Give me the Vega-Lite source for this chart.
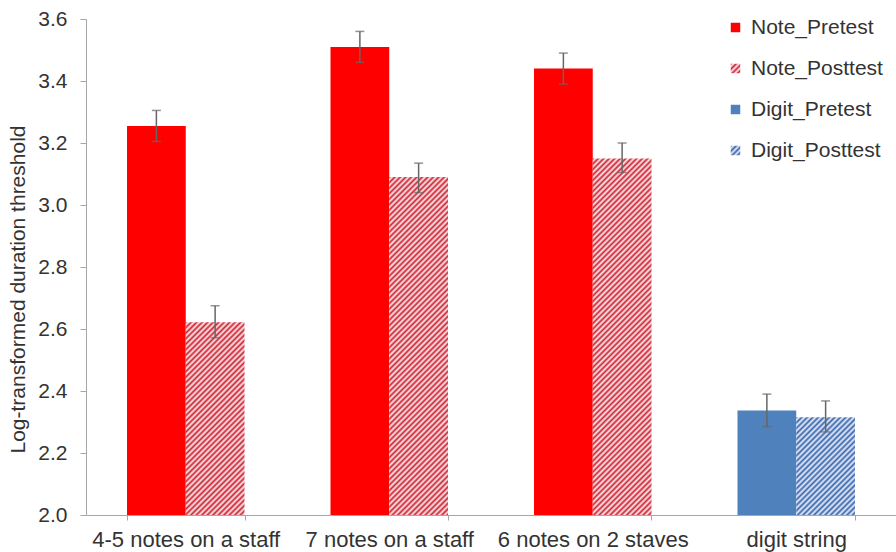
{
  "$schema": "https://vega.github.io/schema/vega-lite/v6.json",
  "width": 810,
  "height": 496,
  "autosize": {"type": "none"},
  "padding": {"left": 86, "top": 19, "right": 0, "bottom": 37},
  "background": "white",
  "config": {
    "font": "Liberation Sans",
    "view": {"stroke": null},
    "axis": {"grid": false, "domainColor": "#a6a6a6", "tickColor": "#a6a6a6", "labelColor": "#333333", "labelFontSize": 21, "titleColor": "#333333", "titleFontWeight": "normal"},
    "axisY": {"tickSize": 6, "labelPadding": 13, "titleFontSize": 21, "titleX": -68, "titleY": 270, "titleAngle": -90, "titleBaseline": "middle", "titleAlign": "center"},
    "axisX": {"tickBand": "extent", "tickSize": 5, "labelPadding": 9, "labelAngle": 0, "labelFontSize": 22, "labelLimit": 400}
  },
  "params": [
    {"name": "redStops", "value": [{"offset":0,"color":"#c23"},{"offset":0.005,"color":"#fee"},{"offset":0.01,"color":"#c23"},{"offset":0.015,"color":"#fee"},{"offset":0.02,"color":"#c23"},{"offset":0.025,"color":"#fee"},{"offset":0.03,"color":"#c23"},{"offset":0.035,"color":"#fee"},{"offset":0.04,"color":"#c23"},{"offset":0.045,"color":"#fee"},{"offset":0.05,"color":"#c23"},{"offset":0.055,"color":"#fee"},{"offset":0.06,"color":"#c23"},{"offset":0.065,"color":"#fee"},{"offset":0.07,"color":"#c23"},{"offset":0.075,"color":"#fee"},{"offset":0.08,"color":"#c23"},{"offset":0.085,"color":"#fee"},{"offset":0.09,"color":"#c23"},{"offset":0.095,"color":"#fee"},{"offset":0.1,"color":"#c23"},{"offset":0.105,"color":"#fee"},{"offset":0.11,"color":"#c23"},{"offset":0.115,"color":"#fee"},{"offset":0.12,"color":"#c23"},{"offset":0.125,"color":"#fee"},{"offset":0.13,"color":"#c23"},{"offset":0.135,"color":"#fee"},{"offset":0.14,"color":"#c23"},{"offset":0.145,"color":"#fee"},{"offset":0.15,"color":"#c23"},{"offset":0.155,"color":"#fee"},{"offset":0.16,"color":"#c23"},{"offset":0.165,"color":"#fee"},{"offset":0.17,"color":"#c23"},{"offset":0.175,"color":"#fee"},{"offset":0.18,"color":"#c23"},{"offset":0.185,"color":"#fee"},{"offset":0.19,"color":"#c23"},{"offset":0.195,"color":"#fee"},{"offset":0.2,"color":"#c23"},{"offset":0.205,"color":"#fee"},{"offset":0.21,"color":"#c23"},{"offset":0.215,"color":"#fee"},{"offset":0.22,"color":"#c23"},{"offset":0.225,"color":"#fee"},{"offset":0.23,"color":"#c23"},{"offset":0.235,"color":"#fee"},{"offset":0.24,"color":"#c23"},{"offset":0.245,"color":"#fee"},{"offset":0.25,"color":"#c23"},{"offset":0.255,"color":"#fee"},{"offset":0.26,"color":"#c23"},{"offset":0.265,"color":"#fee"},{"offset":0.27,"color":"#c23"},{"offset":0.275,"color":"#fee"},{"offset":0.28,"color":"#c23"},{"offset":0.285,"color":"#fee"},{"offset":0.29,"color":"#c23"},{"offset":0.295,"color":"#fee"},{"offset":0.3,"color":"#c23"},{"offset":0.305,"color":"#fee"},{"offset":0.31,"color":"#c23"},{"offset":0.315,"color":"#fee"},{"offset":0.32,"color":"#c23"},{"offset":0.325,"color":"#fee"},{"offset":0.33,"color":"#c23"},{"offset":0.335,"color":"#fee"},{"offset":0.34,"color":"#c23"},{"offset":0.345,"color":"#fee"},{"offset":0.35,"color":"#c23"},{"offset":0.355,"color":"#fee"},{"offset":0.36,"color":"#c23"},{"offset":0.365,"color":"#fee"},{"offset":0.37,"color":"#c23"},{"offset":0.375,"color":"#fee"},{"offset":0.38,"color":"#c23"},{"offset":0.385,"color":"#fee"},{"offset":0.39,"color":"#c23"},{"offset":0.395,"color":"#fee"},{"offset":0.4,"color":"#c23"},{"offset":0.405,"color":"#fee"},{"offset":0.41,"color":"#c23"},{"offset":0.415,"color":"#fee"},{"offset":0.42,"color":"#c23"},{"offset":0.425,"color":"#fee"},{"offset":0.43,"color":"#c23"},{"offset":0.435,"color":"#fee"},{"offset":0.44,"color":"#c23"},{"offset":0.445,"color":"#fee"},{"offset":0.45,"color":"#c23"},{"offset":0.455,"color":"#fee"},{"offset":0.46,"color":"#c23"},{"offset":0.465,"color":"#fee"},{"offset":0.47,"color":"#c23"},{"offset":0.475,"color":"#fee"},{"offset":0.48,"color":"#c23"},{"offset":0.485,"color":"#fee"},{"offset":0.49,"color":"#c23"},{"offset":0.495,"color":"#fee"},{"offset":0.5,"color":"#c23"},{"offset":0.505,"color":"#fee"},{"offset":0.51,"color":"#c23"},{"offset":0.515,"color":"#fee"},{"offset":0.52,"color":"#c23"},{"offset":0.525,"color":"#fee"},{"offset":0.53,"color":"#c23"},{"offset":0.535,"color":"#fee"},{"offset":0.54,"color":"#c23"},{"offset":0.545,"color":"#fee"},{"offset":0.55,"color":"#c23"},{"offset":0.555,"color":"#fee"},{"offset":0.56,"color":"#c23"},{"offset":0.565,"color":"#fee"},{"offset":0.57,"color":"#c23"},{"offset":0.575,"color":"#fee"},{"offset":0.58,"color":"#c23"},{"offset":0.585,"color":"#fee"},{"offset":0.59,"color":"#c23"},{"offset":0.595,"color":"#fee"},{"offset":0.6,"color":"#c23"},{"offset":0.605,"color":"#fee"},{"offset":0.61,"color":"#c23"},{"offset":0.615,"color":"#fee"},{"offset":0.62,"color":"#c23"},{"offset":0.625,"color":"#fee"},{"offset":0.63,"color":"#c23"},{"offset":0.635,"color":"#fee"},{"offset":0.64,"color":"#c23"},{"offset":0.645,"color":"#fee"},{"offset":0.65,"color":"#c23"},{"offset":0.655,"color":"#fee"},{"offset":0.66,"color":"#c23"},{"offset":0.665,"color":"#fee"},{"offset":0.67,"color":"#c23"},{"offset":0.675,"color":"#fee"},{"offset":0.68,"color":"#c23"},{"offset":0.685,"color":"#fee"},{"offset":0.69,"color":"#c23"},{"offset":0.695,"color":"#fee"},{"offset":0.7,"color":"#c23"},{"offset":0.705,"color":"#fee"},{"offset":0.71,"color":"#c23"},{"offset":0.715,"color":"#fee"},{"offset":0.72,"color":"#c23"},{"offset":0.725,"color":"#fee"},{"offset":0.73,"color":"#c23"},{"offset":0.735,"color":"#fee"},{"offset":0.74,"color":"#c23"},{"offset":0.745,"color":"#fee"},{"offset":0.75,"color":"#c23"},{"offset":0.755,"color":"#fee"},{"offset":0.76,"color":"#c23"},{"offset":0.765,"color":"#fee"},{"offset":0.77,"color":"#c23"},{"offset":0.775,"color":"#fee"},{"offset":0.78,"color":"#c23"},{"offset":0.785,"color":"#fee"},{"offset":0.79,"color":"#c23"},{"offset":0.795,"color":"#fee"},{"offset":0.8,"color":"#c23"},{"offset":0.805,"color":"#fee"},{"offset":0.81,"color":"#c23"},{"offset":0.815,"color":"#fee"},{"offset":0.82,"color":"#c23"},{"offset":0.825,"color":"#fee"},{"offset":0.83,"color":"#c23"},{"offset":0.835,"color":"#fee"},{"offset":0.84,"color":"#c23"},{"offset":0.845,"color":"#fee"},{"offset":0.85,"color":"#c23"}]},
    {"name": "blueStops", "value": [{"offset":0,"color":"#36a"},{"offset":0.005,"color":"#eef"},{"offset":0.01,"color":"#36a"},{"offset":0.015,"color":"#eef"},{"offset":0.02,"color":"#36a"},{"offset":0.025,"color":"#eef"},{"offset":0.03,"color":"#36a"},{"offset":0.035,"color":"#eef"},{"offset":0.04,"color":"#36a"},{"offset":0.045,"color":"#eef"},{"offset":0.05,"color":"#36a"},{"offset":0.055,"color":"#eef"},{"offset":0.06,"color":"#36a"},{"offset":0.065,"color":"#eef"},{"offset":0.07,"color":"#36a"},{"offset":0.075,"color":"#eef"},{"offset":0.08,"color":"#36a"},{"offset":0.085,"color":"#eef"},{"offset":0.09,"color":"#36a"},{"offset":0.095,"color":"#eef"},{"offset":0.1,"color":"#36a"},{"offset":0.105,"color":"#eef"},{"offset":0.11,"color":"#36a"},{"offset":0.115,"color":"#eef"},{"offset":0.12,"color":"#36a"},{"offset":0.125,"color":"#eef"},{"offset":0.13,"color":"#36a"},{"offset":0.135,"color":"#eef"},{"offset":0.14,"color":"#36a"},{"offset":0.145,"color":"#eef"},{"offset":0.15,"color":"#36a"},{"offset":0.155,"color":"#eef"},{"offset":0.16,"color":"#36a"},{"offset":0.165,"color":"#eef"},{"offset":0.17,"color":"#36a"},{"offset":0.175,"color":"#eef"},{"offset":0.18,"color":"#36a"},{"offset":0.185,"color":"#eef"},{"offset":0.19,"color":"#36a"},{"offset":0.195,"color":"#eef"},{"offset":0.2,"color":"#36a"},{"offset":0.205,"color":"#eef"},{"offset":0.21,"color":"#36a"},{"offset":0.215,"color":"#eef"},{"offset":0.22,"color":"#36a"},{"offset":0.225,"color":"#eef"},{"offset":0.23,"color":"#36a"},{"offset":0.235,"color":"#eef"},{"offset":0.24,"color":"#36a"},{"offset":0.245,"color":"#eef"},{"offset":0.25,"color":"#36a"},{"offset":0.255,"color":"#eef"},{"offset":0.26,"color":"#36a"},{"offset":0.265,"color":"#eef"},{"offset":0.27,"color":"#36a"},{"offset":0.275,"color":"#eef"},{"offset":0.28,"color":"#36a"},{"offset":0.285,"color":"#eef"},{"offset":0.29,"color":"#36a"},{"offset":0.295,"color":"#eef"},{"offset":0.3,"color":"#36a"},{"offset":0.305,"color":"#eef"},{"offset":0.31,"color":"#36a"},{"offset":0.315,"color":"#eef"},{"offset":0.32,"color":"#36a"},{"offset":0.325,"color":"#eef"},{"offset":0.33,"color":"#36a"},{"offset":0.335,"color":"#eef"},{"offset":0.34,"color":"#36a"},{"offset":0.345,"color":"#eef"},{"offset":0.35,"color":"#36a"}]}
  ],
  "data": {"values": [
    {"cat": "4-5 notes on a staff", "series": "Note_Pretest", "group": "Note", "test": "Pretest", "value": 3.255, "lo": 3.205, "hi": 3.305},
    {"cat": "4-5 notes on a staff", "series": "Note_Posttest", "group": "Note", "test": "Posttest", "value": 2.622, "lo": 2.572, "hi": 2.675},
    {"cat": "7 notes on a staff", "series": "Note_Pretest", "group": "Note", "test": "Pretest", "value": 3.51, "lo": 3.46, "hi": 3.56},
    {"cat": "7 notes on a staff", "series": "Note_Posttest", "group": "Note", "test": "Posttest", "value": 3.09, "lo": 3.04, "hi": 3.135},
    {"cat": "6 notes on 2 staves", "series": "Note_Pretest", "group": "Note", "test": "Pretest", "value": 3.44, "lo": 3.39, "hi": 3.49},
    {"cat": "6 notes on 2 staves", "series": "Note_Posttest", "group": "Note", "test": "Posttest", "value": 3.15, "lo": 3.105, "hi": 3.2},
    {"cat": "digit string", "series": "Digit_Pretest", "group": "Digit", "test": "Pretest", "value": 2.337, "lo": 2.285, "hi": 2.39},
    {"cat": "digit string", "series": "Digit_Posttest", "group": "Digit", "test": "Posttest", "value": 2.315, "lo": 2.268, "hi": 2.368}
  ]},
  "encoding": {
    "x": {"field": "cat", "type": "nominal", "title": null, "sort": ["4-5 notes on a staff", "7 notes on a staff", "6 notes on 2 staves", "digit string"], "scale": {"paddingInner": 0.4226, "paddingOuter": 0.2015}},
    "xOffset": {"field": "test", "type": "nominal", "sort": ["Pretest", "Posttest"], "scale": {"domain": ["Pretest", "Posttest"], "paddingInner": 0, "paddingOuter": 0}}
  },
  "layer": [
    {
      "transform": [{"filter": "datum.test === 'Pretest'"}],
      "mark": {"type": "bar"},
      "encoding": {
        "y": {"field": "value", "type": "quantitative", "title": "Log-transformed duration threshold", "scale": {"domain": [2, 3.6], "nice": false, "zero": false}, "axis": {"values": [2, 2.2, 2.4, 2.6, 2.8, 3, 3.2, 3.4, 3.6], "format": ".1f"}},
        "y2": {"datum": 2},
        "color": {
          "field": "series", "type": "nominal",
          "scale": {"domain": ["Note_Pretest", "Note_Posttest", "Digit_Pretest", "Digit_Posttest"], "range": ["#ff0000", {"expr": "{gradient: 'linear', x1: 0, y1: 0, x2: 29, y2: 29, stops: redStops}"}, "#4f81bd", {"expr": "{gradient: 'linear', x1: 0, y1: 0, x2: 29, y2: 29, stops: blueStops}"}]},
          "legend": {
            "title": null, "orient": "none", "legendX": 639, "legendY": -2, "padding": 0,
            "symbolType": "square", "symbolSize": 90, "symbolStrokeWidth": 0,
            "labelFontSize": 21, "labelColor": "#333333", "labelOffset": 5, "rowPadding": 19
          }
        }
      }
    },
    {
      "transform": [{"filter": "datum.test === 'Posttest'"}],
      "mark": {"type": "bar", "fill": {"expr": "{gradient: 'linear', x1: 0, y1: 0, x2: bandwidth('xOffset') * 550 / (pow(bandwidth('xOffset'), 2) + pow(scale('y', 2) - scale('y', datum.value), 2)), y2: (scale('y', 2) - scale('y', datum.value)) * 550 / (pow(bandwidth('xOffset'), 2) + pow(scale('y', 2) - scale('y', datum.value), 2)), stops: datum.group === 'Note' ? redStops : blueStops}"}},
      "encoding": {
        "y": {"field": "value", "type": "quantitative", "title": "Log-transformed duration threshold", "scale": {"domain": [2, 3.6], "nice": false, "zero": false}},
        "y2": {"datum": 2}
      }
    },
    {
      "mark": {"type": "rule", "color": "#666666", "strokeWidth": 1.5},
      "encoding": {
        "y": {"field": "lo", "type": "quantitative", "title": "Log-transformed duration threshold", "scale": {"domain": [2, 3.6], "nice": false, "zero": false}},
        "y2": {"field": "hi"}
      }
    },
    {
      "mark": {"type": "tick", "orient": "horizontal", "color": "#666666", "size": 9, "thickness": 1.5},
      "encoding": {
        "y": {"field": "hi", "type": "quantitative", "title": "Log-transformed duration threshold", "scale": {"domain": [2, 3.6], "nice": false, "zero": false}}
      }
    },
    {
      "mark": {"type": "tick", "orient": "horizontal", "color": "#666666", "size": 9, "thickness": 1.5},
      "encoding": {
        "y": {"field": "lo", "type": "quantitative", "title": "Log-transformed duration threshold", "scale": {"domain": [2, 3.6], "nice": false, "zero": false}}
      }
    }
  ]
}
